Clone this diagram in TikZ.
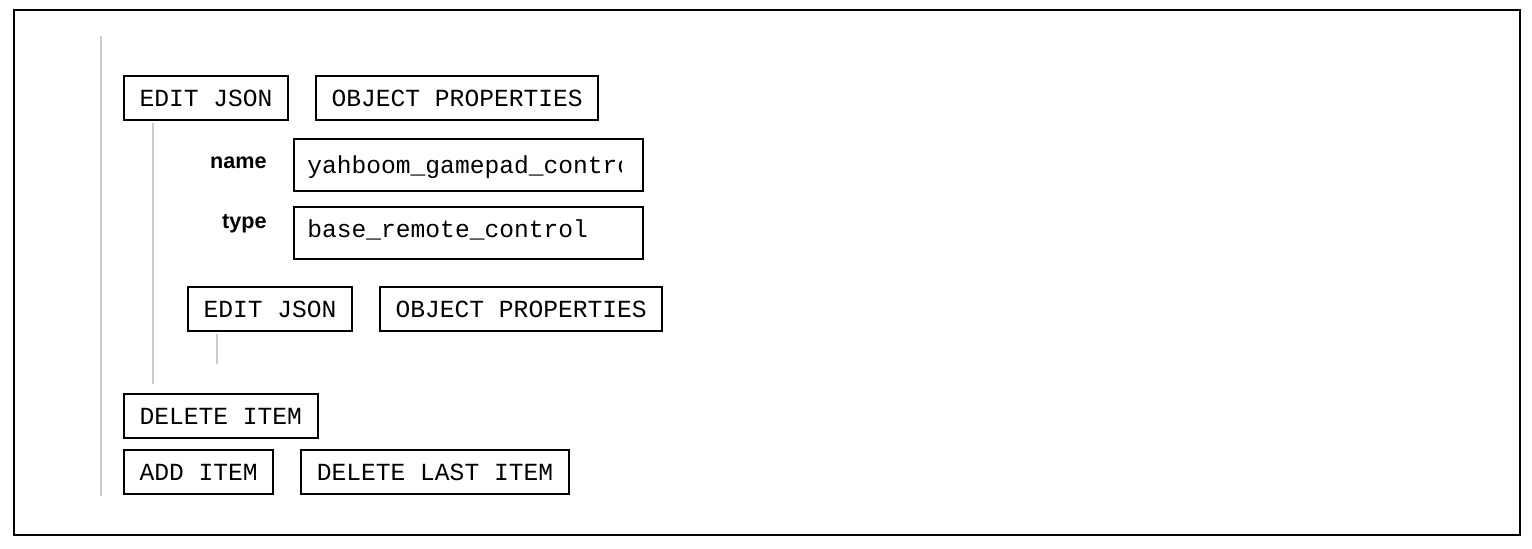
\documentclass[tikz,border=0pt]{standalone}
\usepackage{fontspec}
\newfontfamily\btnfont{Liberation Mono}
\newfontfamily\lblfont{Liberation Sans}
\usepackage{tikz}
\usetikzlibrary{positioning}

\tikzset{
  btn/.style={draw, line width=1pt, anchor=north west, inner xsep=7.8pt, inner ysep=0pt,
    minimum height=22pt, font=\btnfont\fontsize{12.3}{14}\selectfont},
  field/.style={draw, line width=1pt, anchor=north west, minimum width=174.5pt, minimum height=26pt},
  fieldtext/.style={anchor=base west, inner sep=0pt, font=\btnfont\fontsize{12.3}{14}\selectfont},
  lbl/.style={anchor=base east, inner sep=0pt, font=\lblfont\bfseries\fontsize{10.8}{12}\selectfont},
  guide/.style={draw=gray!40, line width=1pt}
}

\begin{document}
\begin{tikzpicture}[x=0.5pt, y=-0.5pt]
  \useasboundingbox (0,0) rectangle (1532,548);
  \draw[line width=1pt] (14,10) rectangle (1520,535);

  % top level array
  \node[btn] (ej1) at (123,75) {EDIT JSON};
  \node[btn, right=13pt of ej1] (op1) {OBJECT PROPERTIES};

  % object fields
  \node[field] (fname) at (293,138) {};
  \node[field] (ftype) at (293,206) {};
  \node[lbl] (lname) at (267,168) {name};
  \node[lbl] (ltype) at (267,228) {type};
  \begin{scope}
    \clip (fname.north west) rectangle ([xshift=-11.5pt]fname.south east);
    \node[fieldtext] (vname) at ([xshift=7pt]fname.west |- 0,173) {yahboom\_gamepad\_controller};
  \end{scope}
  \node[fieldtext] (vtype) at ([xshift=7pt]ftype.west |- 0,237) {base\_remote\_control};

  % nested object
  \node[btn] (ej2) at (187,286) {EDIT JSON};
  \node[btn, right=13pt of ej2] (op2) {OBJECT PROPERTIES};

  % item buttons
  \node[btn] (del) at (123,393) {DELETE ITEM};
  \node[btn, below right=5pt and 0pt of del.south west] (add) {ADD ITEM};
  \node[btn, right=13pt of add] (dell) {DELETE LAST ITEM};

  % guide lines
  \coordinate (g0a) at (101,36);
  \coordinate (g0b) at (101,496);
  \coordinate (g1) at (153,384);
  \coordinate (g2) at (217,364);
  \path[guide]
  (g0a) edge (g0b)
  ([yshift=-1pt]ej1.south -| g1) edge (g1)
  ([yshift=-1pt]ej2.south -| g2) edge (g2)
  ;
\end{tikzpicture}
\end{document}
